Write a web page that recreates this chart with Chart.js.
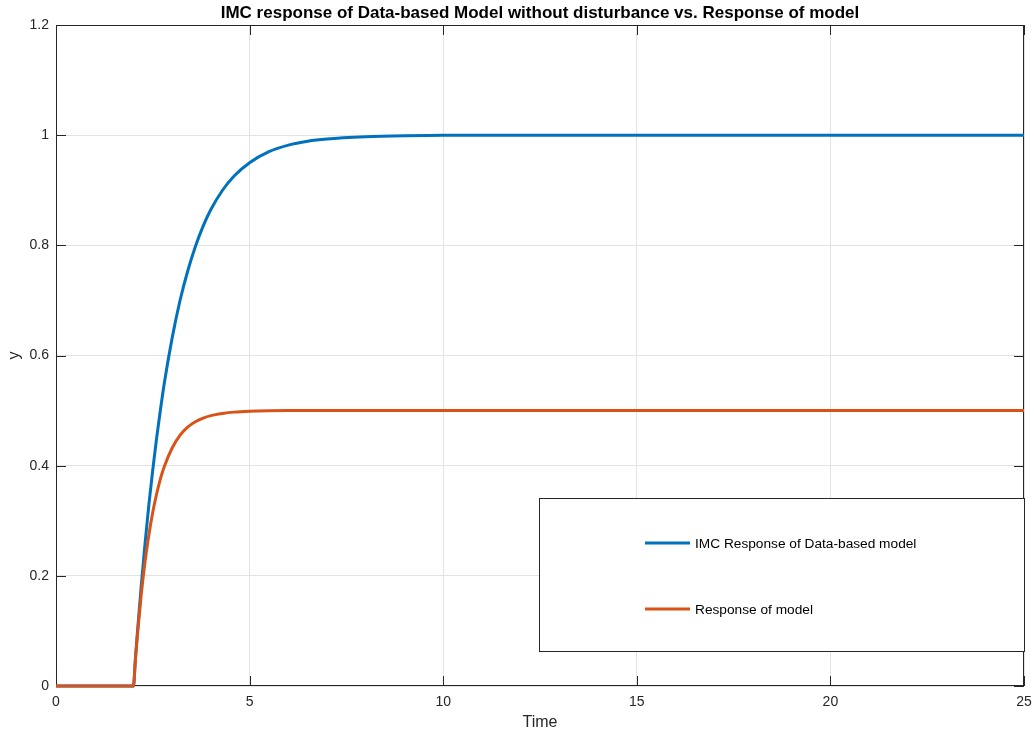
<!DOCTYPE html>
<html>
<head>
<meta charset="utf-8">
<script src="https://cdn.jsdelivr.net/npm/chart.js@4/dist/chart.umd.min.js"></script>
<style>
  html, body { margin: 0; padding: 0; background: #fff; }
  #wrap { width: 1034px; height: 732px; }
</style>
</head>
<body>
<div id="wrap"><canvas id="imcChart" width="1034" height="732"></canvas></div>
<script>
/* ---------- data ---------- */
const timeValues = [0, 2, 2.05, 2.1, 2.2, 2.3, 2.4, 2.5, 2.6, 2.7, 2.8, 3.0, 3.2, 3.4, 3.6, 3.8,
  4.0, 4.3, 4.6, 5.0, 5.5, 6.0, 6.5, 7.0, 8.0, 9.0, 10, 12, 15, 20, 25];

const imcResponse = [0, 0, 0.049, 0.095, 0.181, 0.259, 0.33, 0.393, 0.451, 0.503, 0.551, 0.632, 0.699,
  0.753, 0.798, 0.835, 0.865, 0.9, 0.926, 0.95, 0.97, 0.982, 0.989, 0.993, 0.997, 0.999, 1, 1, 1, 1, 1];

const modelResponse = [0, 0, 0.047, 0.09, 0.165, 0.226, 0.275, 0.316, 0.349, 0.377, 0.399, 0.432, 0.455,
  0.47, 0.4796, 0.4863, 0.4908, 0.4947, 0.4972, 0.4988, 0.4997, 0.5, 0.5, 0.5, 0.5, 0.5, 0.5, 0.5, 0.5, 0.5, 0.5];

const seriesNames = ["IMC Response of Data-based model", "Response of model"];
const xTicks = [0, 5, 10, 15, 20, 25];
const yTicks = [0, 0.2, 0.4, 0.6, 0.8, 1, 1.2];

const AXIS_COLOR = "#262626";
const FONT = "'Liberation Sans', Arial, Helvetica, sans-serif";

const toPoints = (ys) => timeValues.map((t, i) => ({ x: t, y: ys[i] }));

/* ---------- box + inward ticks (drawn under the lines) ---------- */
const axesBox = {
  id: "axesBox",
  beforeDatasetsDraw(chart) {
    const { ctx, chartArea: a, scales } = chart;
    const len = 10;
    ctx.save();
    ctx.strokeStyle = AXIS_COLOR;
    ctx.lineWidth = 1;
    ctx.strokeRect(a.left + 0.5, a.top + 0.5, a.right - a.left - 1, a.bottom - a.top - 1);
    ctx.beginPath();
    xTicks.forEach((v) => {
      const px = Math.round(scales.x.getPixelForValue(v)) + 0.5;
      ctx.moveTo(px, a.bottom); ctx.lineTo(px, a.bottom - len);
      ctx.moveTo(px, a.top); ctx.lineTo(px, a.top + len);
    });
    yTicks.forEach((v) => {
      const py = Math.round(scales.y.getPixelForValue(v)) + 0.5;
      ctx.moveTo(a.left, py); ctx.lineTo(a.left + len, py);
      ctx.moveTo(a.right, py); ctx.lineTo(a.right - len, py);
    });
    ctx.stroke();
    ctx.restore();
  },
};

/* ---------- boxed legend inside the axes ---------- */
const boxLegend = {
  id: "boxLegend",
  afterDraw(chart) {
    const { ctx } = chart;
    const box = { x: 539, y: 498, w: 486, h: 154 };
    ctx.save();
    ctx.fillStyle = "#fff";
    ctx.fillRect(box.x, box.y, box.w, box.h);
    ctx.strokeStyle = AXIS_COLOR;
    ctx.lineWidth = 1;
    ctx.strokeRect(box.x + 0.5, box.y + 0.5, box.w - 1, box.h - 1);
    const rows = [543, 609];
    chart.data.datasets.forEach((ds, i) => {
      const y = rows[i];
      ctx.strokeStyle = ds.borderColor;
      ctx.lineWidth = ds.borderWidth;
      ctx.beginPath();
      ctx.moveTo(645, y); ctx.lineTo(690, y);
      ctx.stroke();
      ctx.fillStyle = "#000";
      ctx.font = "13.7px " + FONT;
      ctx.textBaseline = "middle";
      ctx.fillText(ds.label, 695, y + 1);
    });
    ctx.restore();
  },
};

new Chart(document.getElementById("imcChart"), {
  type: "line",
  data: {
    datasets: [
      {
        label: seriesNames[0],
        data: toPoints(imcResponse),
        borderColor: "#0072BD",
        borderWidth: 3,
        pointRadius: 0,
        cubicInterpolationMode: "monotone",
        clip: 4,
        order: 1,
      },
      {
        // plotted second, so it sits on top of the blue line
        label: seriesNames[1],
        data: toPoints(modelResponse),
        borderColor: "#D95319",
        borderWidth: 3,
        pointRadius: 0,
        cubicInterpolationMode: "monotone",
        clip: 4,
        order: 0,
      },
    ],
  },
  options: {
    responsive: false,
    animation: false,
    layout: { padding: { left: 0, right: 10, top: 0, bottom: 0 } },
    plugins: {
      legend: { display: false },
      tooltip: { enabled: false },
      title: {
        display: true,
        fullSize: false,
        text: "IMC response of Data-based Model without disturbance vs. Response of model",
        color: "#000",
        font: { family: FONT, size: 17, weight: "bold", lineHeight: 1.2 },
        padding: { top: 3, bottom: 1.6 },
      },
    },
    scales: {
      x: {
        type: "linear",
        min: 0,
        max: 25,
        afterBuildTicks: (s) => { s.ticks = xTicks.map((v) => ({ value: v })); },
        afterFit: (s) => { s.height = 46; s.paddingLeft = 0; s.paddingRight = 0; },
        grid: { color: "#e3e3e3", drawTicks: false },
        border: { display: false },
        ticks: { color: AXIS_COLOR, font: { family: FONT, size: 14 }, padding: 8, maxRotation: 0 },
        title: {
          display: true,
          text: "Time",
          color: AXIS_COLOR,
          font: { family: FONT, size: 16 },
          padding: { top: 0, bottom: 0 },
        },
      },
      y: {
        min: 0,
        max: 1.2,
        afterBuildTicks: (s) => { s.ticks = yTicks.map((v) => ({ value: v })); },
        afterFit: (s) => { s.width = 56; },
        grid: { color: "#e3e3e3", drawTicks: false },
        border: { display: false },
        ticks: {
          color: AXIS_COLOR,
          font: { family: FONT, size: 14 },
          padding: 7,
          callback: (v) => String(+v.toFixed(1)),
        },
        title: {
          display: true,
          text: "y",
          color: AXIS_COLOR,
          font: { family: FONT, size: 16 },
          padding: { top: 5, bottom: 0 },
        },
      },
    },
  },
  plugins: [axesBox, boxLegend],
});
</script>
</body>
</html>
